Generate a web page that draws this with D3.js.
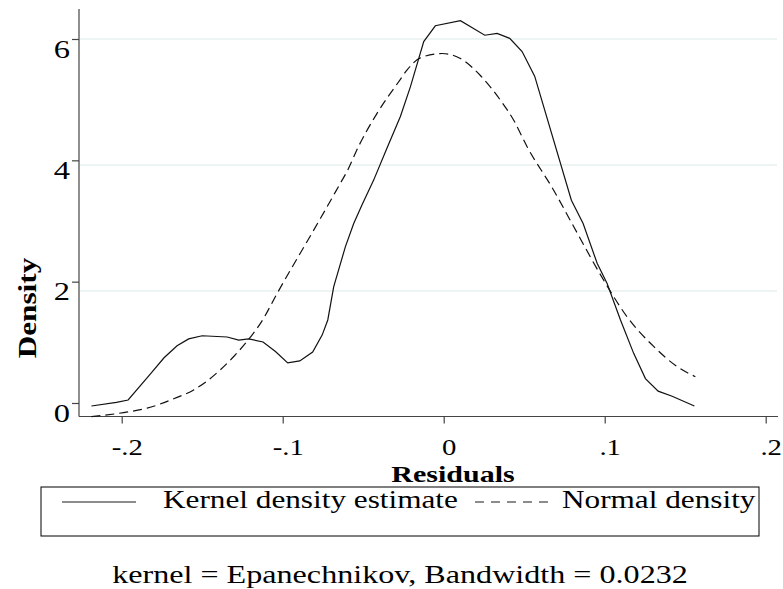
<!DOCTYPE html>
<html>
<head>
<meta charset="utf-8">
<script src="https://cdn.jsdelivr.net/npm/d3@7"></script>
<style>
  body { margin: 0; background: #fff; }
  svg text { font-family: "Liberation Serif", "Times New Roman", Times, "DejaVu Serif", serif !important; fill: #000; }
</style>
</head>
<body>
<div id="chart"></div>
<script>
// kernel density estimate
var kdeX = [-0.2188, -0.2033, -0.196, -0.182, -0.1737, -0.1656, -0.1584, -0.150, -0.1345, -0.1273,
            -0.1211, -0.1122, -0.1045, -0.0969, -0.0894, -0.0814, -0.0755, -0.072, -0.0683, -0.0611,
            -0.0559, -0.0507, -0.0435, -0.0352, -0.0269, -0.0207, -0.0124, -0.0052, 0.0104, 0.0255,
            0.0332, 0.0410, 0.0487, 0.0565, 0.0793, 0.0866, 0.0953, 0.1015, 0.1098, 0.118,
            0.1253, 0.1332, 0.1419, 0.1557];
var kdeY = [0.175, 0.233, 0.27, 0.69, 0.94, 1.13, 1.24, 1.29, 1.27, 1.22,
            1.24, 1.19, 1.04, 0.86, 0.89, 1.03, 1.30, 1.54, 2.07, 2.70,
            3.07, 3.37, 3.76, 4.27, 4.77, 5.24, 5.96, 6.21, 6.29, 6.06,
            6.09, 6.01, 5.80, 5.41, 3.44, 3.07, 2.44, 2.12, 1.54, 1.01,
            0.61, 0.41, 0.33, 0.175];
// normal density
var normX = [-0.2188, -0.1988, -0.1842, -0.1677, -0.1553, -0.147, -0.1387, -0.1304, -0.12, -0.1132,
             -0.1035, -0.0766, -0.0642, -0.06, -0.0528, -0.0414, -0.0269, -0.0227, -0.0145, -0.001,
             0.0104, 0.0228, 0.0352, 0.0435, 0.0518, 0.0683, 0.0808, 0.0994, 0.1139, 0.1304,
             0.145, 0.1563];
var normY = [0.005, 0.07, 0.14, 0.29, 0.43, 0.57, 0.75, 0.96, 1.27, 1.51,
             1.96, 3.15, 3.71, 3.90, 4.30, 4.82, 5.36, 5.51, 5.70, 5.77,
             5.69, 5.42, 5.03, 4.71, 4.29, 3.60, 3.02, 2.17, 1.59, 1.12,
             0.80, 0.64];

var xTicks = [-0.2, -0.1, 0, 0.1, 0.2];
var xTickLabels = ["-.2", "-.1", "0", ".1", ".2"];
var yTicks = [0, 2, 4, 6];
var yGrid = [2, 4, 6];

var width = 783, height = 589;
var sx = 1.25; // text in the picture is stretched sideways
var serif = '"Liberation Serif", "Times New Roman", Times, "DejaVu Serif", serif';

var svg = d3.select("#chart")
    .append("svg")
    .attr("width", width)
    .attr("height", height)
    .style("font-family", serif);

// scales
var x = d3.scaleLinear().domain([-0.2, 0.2]).range([121.7, 765.7]);
var y = d3.scaleLinear().domain([0, 6]).range([417, 39]);
// tick marks on the y axis sit a little off the grid in the original
var yTick = d3.scaleLinear().domain([0, 6]).range([403, 39]);

// gridlines
svg.selectAll("grid")
    .data(yGrid)
    .enter()
    .append("line")
    .attr("x1", 80).attr("x2", 777)
    .attr("y1", function (d) { return y(d); })
    .attr("y2", function (d) { return y(d); })
    .attr("stroke", "#e9f1f1")
    .attr("stroke-width", 1.5);

// axis lines
svg.append("line")
    .attr("x1", 79).attr("x2", 79).attr("y1", 9).attr("y2", 416.5)
    .attr("stroke", "#444").attr("stroke-width", 1.2);
svg.append("line")
    .attr("x1", 79).attr("x2", 778).attr("y1", 416.5).attr("y2", 416.5)
    .attr("stroke", "#444").attr("stroke-width", 1.2);

// x axis
var xAxis = svg.append("g")
    .attr("transform", "translate(0,416.5)")
    .call(d3.axisBottom(x)
        .tickValues(xTicks)
        .tickSize(7)
        .tickSizeOuter(0)
        .tickFormat(function (d, i) { return xTickLabels[i]; }));
xAxis.attr("font-family", serif).attr("font-size", null);
xAxis.select(".domain").remove();
xAxis.selectAll("line").attr("stroke", "#444").attr("stroke-width", 1.2);
xAxis.selectAll("text")
    .style("font-family", serif)
    .style("font-size", "23px")
    .attr("fill", "#000")
    .attr("y", 38.5).attr("dy", 0)
    .attr("x", 5 / sx)
    .attr("transform", "scale(" + sx + ",1)");

// y axis
var yAxis = svg.append("g")
    .attr("transform", "translate(79,0)")
    .call(d3.axisLeft(yTick)
        .tickValues(yTicks)
        .tickSize(7)
        .tickSizeOuter(0)
        .tickFormat(d3.format("d")));
yAxis.attr("font-family", serif).attr("font-size", null);
yAxis.select(".domain").remove();
yAxis.selectAll("line").attr("stroke", "#444").attr("stroke-width", 1.2);
yAxis.selectAll("text")
    .style("font-family", serif)
    .style("font-size", "26px")
    .attr("fill", "#000")
    .attr("x", -9 / sx)
    .attr("dy", 18)
    .attr("transform", "scale(" + sx + ",1)");

// curves
var kdeLine = d3.line()
    .x(function (d, i) { return x(kdeX[i]); })
    .y(function (d, i) { return y(kdeY[i]); });
var normLine = d3.line()
    .curve(d3.curveMonotoneX)
    .x(function (d, i) { return x(normX[i]); })
    .y(function (d, i) { return y(normY[i]); });

svg.append("path")
    .attr("d", normLine(normX))
    .attr("fill", "none")
    .attr("stroke", "#111")
    .attr("stroke-width", 1.2)
    .attr("stroke-dasharray", "9,5");
svg.append("path")
    .attr("d", kdeLine(kdeX))
    .attr("fill", "none")
    .attr("stroke", "#111")
    .attr("stroke-width", 1.2);

// axis titles
svg.append("text")
    .attr("transform", "translate(453,482) scale(" + sx + ",1)")
    .attr("text-anchor", "middle")
    .style("font-weight", "bold")
    .style("font-size", "24px")
    .text("Residuals");
svg.append("text")
    .attr("transform", "translate(36,308) rotate(-90) scale(" + sx + ",1)")
    .attr("text-anchor", "middle")
    .style("font-weight", "bold")
    .style("font-size", "25px")
    .text("Density");

// legend
svg.append("rect")
    .attr("x", 41).attr("y", 487)
    .attr("width", 718).attr("height", 49)
    .attr("fill", "none")
    .attr("stroke", "#000")
    .attr("stroke-width", 1);
svg.append("line")
    .attr("x1", 62).attr("x2", 136).attr("y1", 502).attr("y2", 502)
    .attr("stroke", "#666").attr("stroke-width", 1.3);
svg.append("text")
    .attr("transform", "translate(163,508) scale(" + sx + ",1)")
    .style("font-size", "25px")
    .text("Kernel density estimate");
svg.append("line")
    .attr("x1", 475).attr("x2", 548).attr("y1", 502).attr("y2", 502)
    .attr("stroke", "#666").attr("stroke-width", 1.3)
    .attr("stroke-dasharray", "9,7");
svg.append("text")
    .attr("transform", "translate(562,508) scale(" + sx + ",1)")
    .style("font-size", "25px")
    .text("Normal density");

// note
svg.append("text")
    .attr("transform", "translate(400,583) scale(1.26,1)")
    .attr("text-anchor", "middle")
    .style("font-size", "25.5px")
    .text("kernel = Epanechnikov, Bandwidth = 0.0232");
</script>
</body>
</html>
